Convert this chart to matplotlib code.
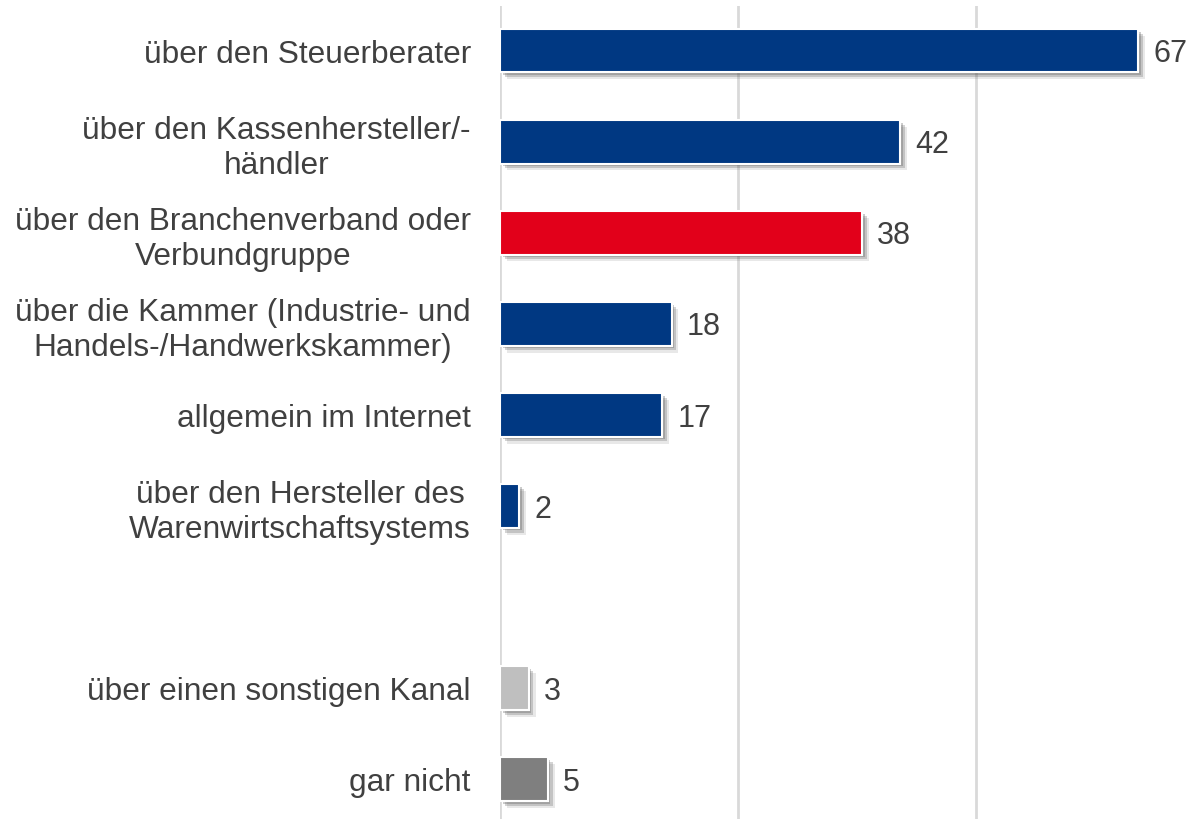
import matplotlib
matplotlib.use("Agg")
import matplotlib.pyplot as plt
import matplotlib.patheffects as pe

plt.rcParams['font.family'] = ['Liberation Sans', 'DejaVu Sans']

# Data
labels = [
    "über den Steuerberater",
    "über den Kassenhersteller/-\nhändler",
    "über den Branchenverband oder\nVerbundgruppe",
    "über die Kammer (Industrie- und\nHandels-/Handwerkskammer)",
    "allgemein im Internet",
    "über den Hersteller des\nWarenwirtschaftsystems",
    "über einen sonstigen Kanal",
    "gar nicht",
]
values = [67, 42, 38, 18, 17, 2, 3, 5]
colors = ["#003882", "#003882", "#E2001A", "#003882", "#003882", "#003882",
          "#BFBFBF", "#7F7F7F"]
# row slots (gap left between the main group and the last two)
rows = [0, 1, 2, 3, 4, 5, 7, 8]

fig = plt.figure(figsize=(11.89, 8.20), dpi=100)
ax = fig.add_axes([500 / 1189, 0.0, 686 / 1189, 1 - 7 / 820])

bars = ax.barh(rows, values, height=0.48, color=colors, edgecolor="white",
               linewidth=1.5, zorder=3)
for b in bars:
    b.set_path_effects([
        pe.SimplePatchShadow(offset=(5, -5), shadow_rgbFace="#666666", alpha=0.15),
        pe.SimplePatchShadow(offset=(3.5, -3.5), shadow_rgbFace="#555555", alpha=0.25),
        pe.SimplePatchShadow(offset=(2, -2), shadow_rgbFace="#555555", alpha=0.3),
        pe.Normal(),
    ])

for r, v in zip(rows, values):
    ax.text(v + 1.6, r + 0.03, str(v), va="center", ha="left", fontsize=22,
            color="#404040")

ax.set_xlim(0, 72)
ax.set_ylim(8.44, -0.49)
ax.set_xticks([0, 25, 50])
ax.xaxis.grid(True, color="#D9D9D9", linewidth=2, zorder=0)
ax.tick_params(axis="x", length=0, labelbottom=False)
ax.tick_params(axis="y", length=0, pad=21)
ax.set_yticks(rows)
ax.set_yticklabels(labels, fontsize=22.8, color="#404040", multialignment="center")
for s in ax.spines.values():
    s.set_visible(False)

fig.savefig("out.png", dpi=100)
